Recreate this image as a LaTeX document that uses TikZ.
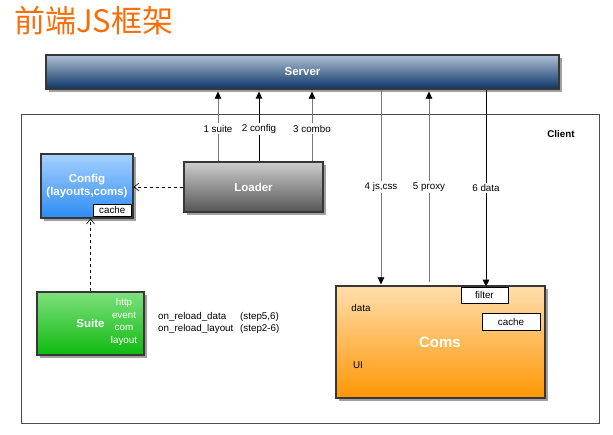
\documentclass[tikz,border=0pt]{standalone}
\usepackage{fontspec}
\setmainfont{Liberation Sans}
\newfontfamily\cjk{Noto Sans CJK SC}
\usetikzlibrary{arrows,arrows.meta,positioning,calc,shadows}
\definecolor{titleOrange}{RGB}{250,110,10}
\definecolor{boxBorder}{RGB}{55,55,55}
\definecolor{shadowGray}{RGB}{160,160,160}
\definecolor{lineGray}{RGB}{120,120,120}
\definecolor{serverTop}{RGB}{175,192,212}
\definecolor{serverBot}{RGB}{12,52,102}
\definecolor{configTop}{RGB}{165,208,255}
\definecolor{configBot}{RGB}{45,140,245}
\definecolor{loaderTop}{RGB}{205,205,205}
\definecolor{loaderBot}{RGB}{85,85,85}
\definecolor{suiteTop}{RGB}{125,225,125}
\definecolor{suiteBot}{RGB}{15,185,15}
\definecolor{comsTop}{RGB}{255,222,172}
\definecolor{comsBot}{RGB}{255,150,5}

\begin{document}
\begin{tikzpicture}[x=1pt, y=-1pt,
    box/.style={draw=boxBorder, line width=1.2pt, inner sep=0pt,
        drop shadow={shadow xshift=3pt, shadow yshift=-3pt,
        fill=shadowGray, opacity=1}},
    boxText/.style={text=white, align=center,
        font=\bfseries\fontsize{11.5}{13}\selectfont},
    tag/.style={draw=black, fill=white, line width=0.6pt, inner sep=0pt,
        font=\fontsize{9.8}{11}\selectfont},
    lbl/.style={fill=white, inner sep=1.5pt,
        font=\fontsize{9.8}{11}\selectfont},
    txt/.style={inner sep=0pt, font=\fontsize{9.8}{12.6}\selectfont},
    thinLine/.style={draw=lineGray, line width=0.6pt},
    heavyLine/.style={draw=black, line width=1pt},
    solidTip/.style={-{Triangle[color=black, length=7pt, width=6.5pt]}},
    openTip/.style={dashed, draw=black, line width=0.6pt,
        -{Straight Barb[length=5pt, width=8pt]}}]

    \useasboundingbox (0,0) rectangle (613,435);

    \node[anchor=west, inner sep=0pt, text=titleOrange,
          font=\cjk\fontsize{31}{31}\selectfont] (nodeTitle) at (14,21) {前端JS框架};

    \node[draw=gray!60!black, line width=0.8pt, minimum width=578pt,
          minimum height=309pt] (nodeClient) at (310,268.5) {};
    \node[txt, font=\bfseries\fontsize{9.8}{11}\selectfont] (nodeClientLbl)
          at (561,134) {Client};

    \node[box, boxText, top color=serverTop, bottom color=serverBot,
          minimum width=513pt, minimum height=34pt] (nodeServer) at (302.5,72) {Server};

    \node[box, top color=configTop, bottom color=configBot,
          minimum width=92pt, minimum height=64pt] (nodeConfig) at (87,186) {};
    \node[boxText] (nodeConfigLbl) at (87,186.5) {Config\\(layouts,coms)};
    \node[tag, anchor=south east, minimum width=38pt, minimum height=12pt]
          (nodeConfigCache) at ([shift={(-2,-2)}]nodeConfig.south east) {cache};

    \node[box, boxText, top color=loaderTop, bottom color=loaderBot,
          minimum width=139pt, minimum height=50pt] (nodeLoader) at (253.5,187) {Loader};

    \node[box, boxText, top color=suiteTop, bottom color=suiteBot,
          minimum width=107pt, minimum height=63pt] (nodeSuite) at (90.5,323.5) {Suite};
    \node[txt, text=white, align=center] (nodeSuiteMods) at (124,322)
          {http\\event\\com\\layout};

    \node[txt, anchor=west] (nodeReloadData) at (158,317) {on\_reload\_data};
    \node[txt, anchor=west] (nodeReloadLayout) at (158,329) {on\_reload\_layout};
    \node[txt, anchor=west] (nodeStepData) at (240,317) {(step5,6)};
    \node[txt, anchor=west] (nodeStepLayout) at (240,329) {(step2-6)};

    \node[box, top color=comsTop, bottom color=comsBot,
          minimum width=209pt, minimum height=112pt] (nodeComs) at (440.5,342) {};
    \node[boxText, font=\bfseries\fontsize{15}{17}\selectfont] (nodeComsLbl)
          at (440,342) {Coms};
    \node[txt] (nodeComsData) at (361,308) {data};
    \node[txt] (nodeComsUI) at (358,365) {UI};
    \node[tag, minimum width=47pt, minimum height=16pt] (nodeFilter)
          at (484.5,295) {filter};
    \node[tag, minimum width=58pt, minimum height=17pt] (nodeComsCache)
          at (511,321.5) {cache};

    \coordinate (c1) at (218,0);
    \coordinate (c2) at (259,0);
    \coordinate (c3) at (312,0);
    \coordinate (c4) at (381,0);
    \coordinate (c5) at (429,0);
    \coordinate (c6) at (486,0);

    \draw[thinLine, solidTip] (c1 |- nodeLoader.north) --
        node[lbl, pos=0.47] {1 suite} ([yshift=-2pt]c1 |- nodeServer.south);
    \draw[heavyLine, solidTip] (c2 |- nodeLoader.north) --
        node[lbl, pos=0.47] {2 config} ([yshift=-2pt]c2 |- nodeServer.south);
    \draw[thinLine, solidTip] (c3 |- nodeLoader.north) --
        node[lbl, pos=0.47] {3 combo} ([yshift=-2pt]c3 |- nodeServer.south);

    \draw[thinLine, solidTip] (c4 |- nodeServer.south) --
        node[lbl] {4 js,css} ([yshift=1pt]c4 |- nodeComs.north);
    \draw[thinLine, solidTip] ([yshift=3pt]c5 |- nodeComs.north) --
        node[lbl] {5 proxy} ([yshift=-2pt]c5 |- nodeServer.south);
    \draw[heavyLine, solidTip] (c6 |- nodeServer.south) --
        node[lbl] {6 data} (c6 |- nodeFilter.north);

    \draw[openTip] (nodeLoader.west) -- (nodeConfig.east |- nodeLoader.west);
    \draw[openTip] (nodeSuite.north) -- (nodeSuite.north |- nodeConfig.south);

\end{tikzpicture}
\end{document}
